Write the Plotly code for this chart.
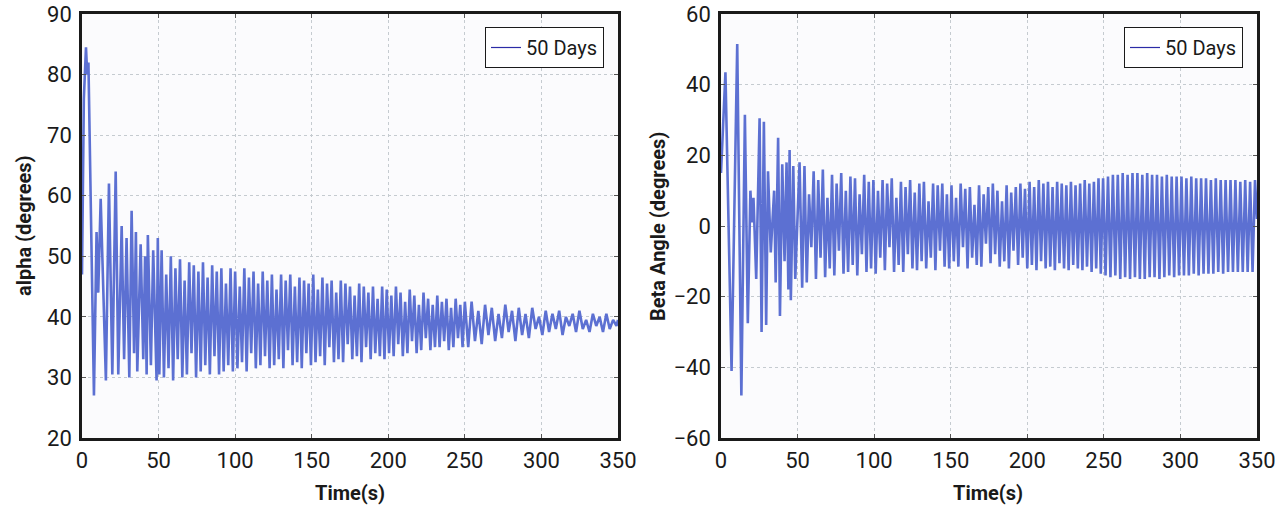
import plotly.graph_objects as go

# ---------------- alpha (left panel): turning points ----------------
alpha_time = [
    0, 1.2, 2.6, 3.4, 4.2, 7.8, 9.5, 10.6, 12.2, 15.6, 17.6, 19.8, 22, 23.7, 25.9, 27.5, 29.1,
    30.9, 32.4, 34, 35.2, 36.1, 38.3, 40, 41.2, 42.2, 43, 45, 46.5, 48.7, 49.5,
    50.5, 52, 53.5, 55, 56.5, 58, 59.5, 61, 62.5, 64, 65.5, 67, 68.5, 70, 71.5, 73, 74.5, 76,
    77.5, 79, 80.5, 82, 83.5, 85, 86.5, 88, 89.5, 91, 92.5, 94, 95.5, 97, 98.5,
    100, 101.5, 103, 104.5, 106, 107.5, 109, 110.5, 112, 113.5, 115, 116.5, 118, 119.5, 121,
    122.5, 124, 125.5, 127, 128.5, 130, 131.5, 133, 134.5, 136, 137.5, 139, 140.5, 142, 143.5,
    145, 146.5, 148, 149.5,
    151, 152.5, 154, 155.5, 157, 158.5, 160, 161.5, 163, 164.5, 166, 167.5, 169, 170.5, 172,
    173.5, 175, 176.5, 178, 179.5, 181, 182.5, 184, 185.5, 187, 188.5, 190, 191.5, 193, 194.5,
    196, 197.5, 199,
    200.5, 202, 203.5, 205, 206.5, 208, 209.5, 211, 212.5, 214, 215.5, 217, 218.5, 220, 221.5,
    223, 224.5, 226, 227.5, 229, 230.5, 232, 233.5, 235, 236.5, 238, 239.5, 241, 242.5, 244,
    245.5, 247, 248.5, 250,
    252.2, 254.4, 256.6, 258.8, 261, 263.2, 265.4, 267.6, 269.8, 272, 274.2, 276.4, 278.6, 280.8,
    283, 285.2, 287.4, 289.6, 291.8, 294, 296.2, 298.4, 300.6, 302.8, 305, 307.2, 309.4, 311.6,
    313.8, 316, 318.2, 320.4, 322.6, 324.8, 327, 329.2, 331.4, 333.6, 335.8, 338, 340.2, 342.4,
    344.6, 346.8, 349, 350,
]
alpha_deg = [
    47, 76, 84.5, 80, 82, 27, 54, 44, 59.5, 29.5, 62, 30.5, 64, 30.5, 55, 33, 53,
    30, 57.5, 34, 54, 31, 52, 33, 50, 30.5, 53.5, 32, 51, 29.5, 53,
    30.5, 51, 30, 47, 31.5, 50, 29.5, 48, 33, 49.5, 30, 46, 30.5, 49, 34, 48.5, 30, 47.5,
    31, 49, 32, 46.5, 30.5, 48.5, 33.5, 47.5, 30.5, 48, 31, 45.5, 32, 48, 31,
    47.5, 31.5, 45, 32.5, 48, 31, 46.5, 34, 47.5, 31.5, 45.5, 32, 47.5, 33.5, 46,
    31.5, 47, 32, 44.5, 33, 47, 31.5, 46, 34.5, 47, 32, 45, 32.5, 46.5, 31.5,
    46, 34, 45.5, 32,
    47, 32.5, 44.5, 33.5, 46.5, 32, 45.5, 35, 46, 32.5, 44, 33, 46, 32.5, 45.5,
    35.5, 45, 33, 43.5, 33.5, 45.5, 32.5, 45, 35, 44, 33, 45, 34, 43, 33.5,
    45, 33, 44.5,
    34, 43.5, 33.5, 45, 35.5, 44, 33.5, 42.5, 34, 44.5, 36, 43.5, 34, 42, 34.5,
    44, 36.5, 43, 34.5, 42, 35, 43.5, 35, 42.5, 36, 43, 34.5, 41.5, 35, 43,
    36.5, 42, 35, 42.5,
    35, 42.5, 36, 41, 35.5, 42, 37, 41.5, 36, 40.5, 36.5, 42, 37.5, 41,
    36, 41.5, 37, 40.5, 36.5, 41.5, 38, 40, 37, 41, 37.5, 40.5, 38, 41,
    37, 40, 38.5, 40.5, 37.5, 41, 38, 39.5, 37.5, 40.5, 38.5, 40, 37.5, 40.5,
    38, 39.5, 38.5, 39.5,
]

# ---------------- beta (right panel): turning points ----------------
beta_time = [
    0, 2.9, 6.9, 10.6, 13.3, 15.6, 17.5, 19.2, 20.2, 21.2, 23, 25.2, 26.5, 28, 29.5, 30.7,
    32.5, 34.7, 35.7, 37.3, 38.5, 40, 41.5, 42.8, 44, 44.8, 45.6, 47.2, 48.5, 51.3, 53,
    54.5, 56, 57.5, 59, 60.5, 62, 63.5, 65, 66.5, 68, 69.5, 71, 72.5, 74, 75.5, 77, 78.5, 80,
    81.5, 83, 84.5, 86, 87.5, 89, 90.5, 92, 93.5, 95, 96.5, 98, 99.5,
    101, 102.5, 104, 105.5, 107, 108.5, 110, 111.5, 113, 114.5, 116, 117.5, 119, 120.5, 122,
    123.5, 125, 126.5, 128, 129.5, 131, 132.5, 134, 135.5, 137, 138.5, 140, 141.5, 143, 144.5,
    146, 147.5, 149,
    150.5, 152, 153.5, 155, 156.5, 158, 159.5, 161, 162.5, 164, 165.5, 167, 168.5, 170, 171.5,
    173, 174.5, 176, 177.5, 179, 180.5, 182, 183.5, 185, 186.5, 188, 189.5, 191, 192.5, 194,
    195.5, 197, 198.5, 200,
    201.5, 203, 204.5, 206, 207.5, 209, 210.5, 212, 213.5, 215, 216.5, 218, 219.5, 221, 222.5,
    224, 225.5, 227, 228.5, 230, 231.5, 233, 234.5, 236, 237.5, 239, 240.5, 242, 243.5, 245,
    246.5, 248, 249.5,
    251.1, 252.7, 254.3, 255.9, 257.5, 259.1, 260.7, 262.3, 263.9, 265.5, 267.1, 268.7, 270.3,
    271.9, 273.5, 275.1, 276.7, 278.3, 279.9, 281.5, 283.1, 284.7, 286.3, 287.9, 289.5, 291.1,
    292.7, 294.3, 295.9, 297.5, 299.1, 300.7, 302.3, 303.9, 305.5, 307.1, 308.7, 310.3, 311.9,
    313.5, 315.1, 316.7, 318.3, 319.9, 321.5, 323.1, 324.7, 326.3, 327.9, 329.5, 331.1, 332.7,
    334.3, 335.9, 337.5, 339.1, 340.7, 342.3, 343.9, 345.5, 347.1, 348.7, 350,
]
beta_deg = [
    15, 43.5, -41, 51.5, -48, 31.5, -27.5, 10, 1, 8, -15, 30.5, -30, 29.5, -28, 15.5,
    -7.5, 10, -16, 25, -25.5, 17.5, -10, 18, -18, 21.5, -21, 17, -15, 18, -17.5,
    17, -16, 9, -6, 15.5, -15, 13, -9, 16, -14.5, 8, -12, 14.5, -14, 12, -7, 15,
    -13.5, 10, -13, 14, -11, 13.5, -14, 9, -8, 14.5, -13, 12.5, -12, 13,
    -13.5, 10, -9, 13, -12.5, 12, -6, 13.5, -13, 8, -11, 12.5, -13, 11, -8,
    13, -12, 9.5, -12.5, 12, -10, 12.5, -12, 7, -9, 12, -12.5, 11.5, -7, 12,
    -11.5, 9, -12,
    11.5, -10, 8, -11.5, 12, -6, 10.5, -12, 11, -9, 6, -11, 11.5, -11.5, 9,
    -5, 11, -10.5, 12, -8, 10, -11.5, 7, -10, 11.5, -12, 9.5, -7, 11, -11,
    12, -9, 10.5, -12,
    12.5, -11, 11, -12.5, 13, -10, 12, -12, 12.5, -11.5, 11, -12.5, 12.5, -10.5, 12,
    -12, 11.5, -12.5, 12.5, -11, 11.5, -12, 12, -12.5, 13, -11.5, 12, -13, 12.5,
    -12, 13.5, -13.5, 13.5,
    -14, 14, -14.5, 14.5, -14, 14.5, -15, 15, -14.5, 14.5, -15, 15, -14.5,
    15, -15, 14.5, -15, 15, -14.5, 14.5, -14.5, 14.5, -15, 14, -14.5, 14.5,
    -14, 14, -14.5, 14, -14, 14, -14, 13.5, -14, 14, -13.5, 13.5, -14,
    13.5, -13.5, 13.5, -13.5, 13, -13.5, 13.5, -13, 13, -13.5, 13, -13, 13,
    -13, 13, -13, 12.5, -13, 13, -13, 12.5, -13, 13, 2,
]

series_name = "50 Days"
x_ticks = [0, 50, 100, 150, 200, 250, 300, 350]
alpha_ticks = [20, 30, 40, 50, 60, 70, 80, 90]
beta_ticks = [-60, -40, -20, 0, 20, 40, 60]

if len(alpha_time) != len(alpha_deg) or len(beta_time) != len(beta_deg):
    raise ValueError(f"len mismatch alpha {len(alpha_time)} {len(alpha_deg)} beta {len(beta_time)} {len(beta_deg)}")

LINE = "rgb(92,112,210)"
LEG = "#2b2ba6"
FONT = "Liberation Sans Narrow, Roboto, sans-serif"

fig = go.Figure()
fig.add_trace(go.Scatter(x=alpha_time, y=alpha_deg, mode="lines", xaxis="x", yaxis="y",
                         line=dict(color=LINE, width=2.6), showlegend=False))
fig.add_trace(go.Scatter(x=[None], y=[None], mode="lines", xaxis="x", yaxis="y",
                         line=dict(color=LEG, width=1.2), name=series_name, legend="legend"))
fig.add_trace(go.Scatter(x=beta_time, y=beta_deg, mode="lines", xaxis="x2", yaxis="y2",
                         line=dict(color=LINE, width=2.6), showlegend=False))
fig.add_trace(go.Scatter(x=[None], y=[None], mode="lines", xaxis="x2", yaxis="y2",
                         line=dict(color=LEG, width=1.2), name=series_name, legend="legend2"))

ydom = [(512 - 438) / 512, (512 - 14) / 512]
axis_common = dict(
    showline=True, linecolor="#1a1a1a", linewidth=2.5, mirror="ticks",
    ticks="inside", ticklen=4, tickcolor="#555", automargin=False,
    showgrid=True, gridcolor="#c5cbd0", griddash="dot", gridwidth=1,
    zeroline=False, tickfont=dict(family=FONT, size=22, color="#1a1a1a"),
)

title_font = dict(family=FONT, size=20, color="#1a1a1a")

fig.update_layout(
    template="none",
    width=1280, height=512,
    margin=dict(l=0, r=0, t=0, b=0, autoexpand=False),
    paper_bgcolor="white", plot_bgcolor="#fbfbfd",
    showlegend=True,
    xaxis=dict(domain=[82 / 1280, 618 / 1280], range=[0, 350], tickvals=x_ticks,
               anchor="y", ticklabelstandoff=1, **axis_common),
    yaxis=dict(domain=ydom, range=[20, 90], tickvals=alpha_ticks, anchor="x",
               ticklabelstandoff=3, **axis_common),
    xaxis2=dict(domain=[721 / 1280, 1257 / 1280], range=[0, 350], tickvals=x_ticks,
                anchor="y2", ticklabelstandoff=1, **axis_common),
    yaxis2=dict(domain=ydom, range=[-60, 60], tickvals=beta_ticks, anchor="x2",
                ticklabelstandoff=3, **axis_common),
    legend=dict(x=604 / 1280, y=(512 - 27) / 512, xanchor="right", yanchor="top",
                bgcolor="white", bordercolor="#1a1a1a", borderwidth=1,
                font=dict(family=FONT, size=20, color="#1a1a1a"), itemwidth=30,
                tracegroupgap=0),
    legend2=dict(x=1243 / 1280, y=(512 - 27) / 512, xanchor="right", yanchor="top",
                 bgcolor="white", bordercolor="#1a1a1a", borderwidth=1,
                 font=dict(family=FONT, size=20, color="#1a1a1a"), itemwidth=30,
                 tracegroupgap=0),
    annotations=[
        dict(text="<b>alpha (degrees)</b>", x=24 / 1280, y=(512 - 226) / 512, xref="paper",
             yref="paper", xanchor="center", yanchor="middle", textangle=-90,
             showarrow=False, font=title_font),
        dict(text="<b>Time(s)</b>", x=350 / 1280, y=(512 - 493) / 512, xref="paper",
             yref="paper", xanchor="center", yanchor="middle", showarrow=False,
             font=title_font),
        dict(text="<b>Beta Angle (degrees)</b>", x=658 / 1280, y=(512 - 227) / 512,
             xref="paper", yref="paper", xanchor="center", yanchor="middle", textangle=-90,
             showarrow=False, font=title_font),
        dict(text="<b>Time(s)</b>", x=988 / 1280, y=(512 - 493) / 512, xref="paper",
             yref="paper", xanchor="center", yanchor="middle", showarrow=False,
             font=title_font),
    ],
)

fig.write_html("out.html")
